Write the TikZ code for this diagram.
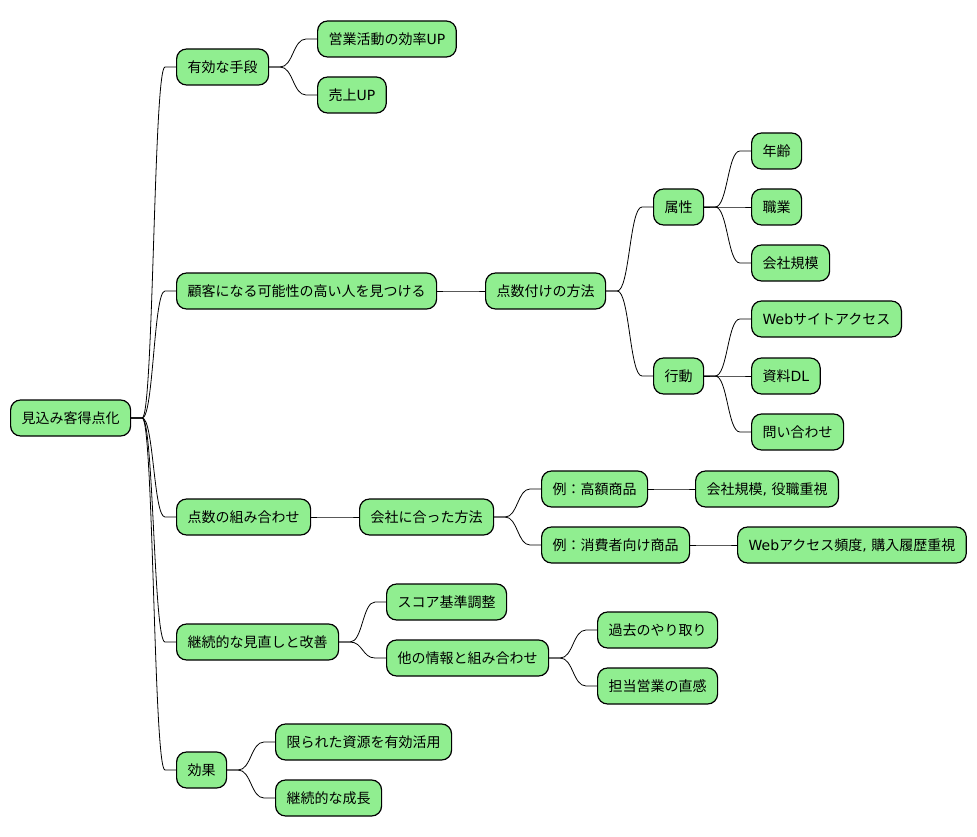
\documentclass[tikz,border=0pt]{standalone}
\usepackage{fontspec}
\setmainfont{Noto Sans CJK JP}
\newfontfamily\lat{DejaVu Sans}
\usetikzlibrary{calc}
\definecolor{mmgreen}{HTML}{90EE90}
\begin{document}
\begin{tikzpicture}[x=1pt,y=-1pt,
  mm/.style={draw=black,line width=1.2pt,fill=mmgreen,rounded corners=10pt,
    minimum height=36pt,inner xsep=11pt,inner ysep=0pt,anchor=west,
    font=\fontsize{14}{16}\selectfont},
  mmedge/.style={to path={let \p1=(\tikztostart), \p2=(\tikztotarget) in
    -- ($(\p1)+(11pt,0)$) .. controls ({(\x1+\x2)/2},\y1) and ({(\x1+\x2)/2},\y2) .. ($(\p2)+(-11pt,0)$) -- (\p2)}},
  conn/.style={draw=black,line width=0.8pt}]
\useasboundingbox (0,0) rectangle (977,837);
\fill[white] (0,0) rectangle (977,837);

\node[mm] (root) at (10,418) {見込み客得点化};
\node[mm] (a1) at (176,67) {有効な手段};
\node[mm] (a11) at (317,39) {営業活動の効率{\lat UP}};
\node[mm] (a12) at (317,95) {売上{\lat UP}};
\node[mm] (a2) at (176,291) {顧客になる可能性の高い人を見つける};
\node[mm] (a21) at (485,291) {点数付けの方法};
\node[mm] (a211) at (653,207) {属性};
\node[mm] (b1) at (751,151) {年齢};
\node[mm] (b2) at (751,207) {職業};
\node[mm] (b3) at (751,263) {会社規模};
\node[mm] (a212) at (653,376) {行動};
\node[mm] (c1) at (751,319) {{\lat Web}サイトアクセス};
\node[mm] (c2) at (751,376) {資料{\lat DL}};
\node[mm] (c3) at (751,432) {問い合わせ};
\node[mm] (a3) at (176,517) {点数の組み合わせ};
\node[mm] (a31) at (359,517) {会社に合った方法};
\node[mm] (d1) at (541,489) {例：高額商品};
\node[mm] (d11) at (695,489) {会社規模{\lat, }役職重視};
\node[mm] (d2) at (541,545) {例：消費者向け商品};
\node[mm] (d21) at (737,545) {{\lat Web}アクセス頻度{\lat, }購入履歴重視};
\node[mm] (a4) at (176,642) {継続的な見直しと改善};
\node[mm] (e1) at (386,602) {スコア基準調整};
\node[mm] (e2) at (386,658) {他の情報と組み合わせ};
\node[mm] (e21) at (597,630) {過去のやり取り};
\node[mm] (e22) at (597,686) {担当営業の直感};
\node[mm] (a5) at (176,770) {効果};
\node[mm] (f1) at (275,742) {限られた資源を有効活用};
\node[mm] (f2) at (275,798) {継続的な成長};

\foreach \s/\t in {root/a1,root/a2,root/a3,root/a4,root/a5,
  a1/a11,a1/a12,a2/a21,a21/a211,a21/a212,a211/b1,a211/b2,a211/b3,
  a212/c1,a212/c2,a212/c3,a3/a31,a31/d1,a31/d2,d1/d11,d2/d21,
  a4/e1,a4/e2,e2/e21,e2/e22,a5/f1,a5/f2}
  \draw[conn] (\s.east) to[mmedge] (\t.west);
\end{tikzpicture}
\end{document}
